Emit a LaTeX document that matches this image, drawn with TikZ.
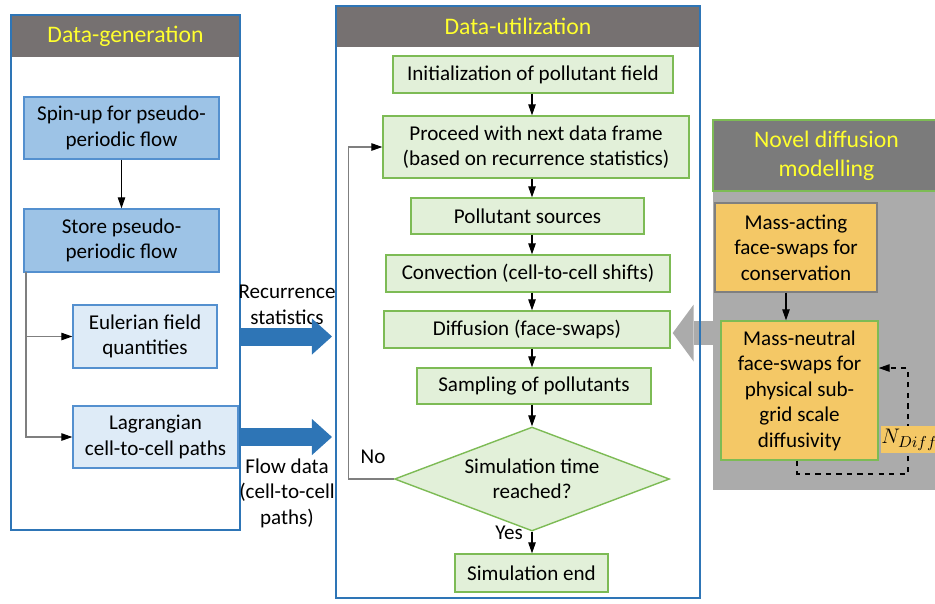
\documentclass[tikz,border=0pt]{standalone}
\usepackage{fontspec}
\setmainfont{Carlito}
\usetikzlibrary{arrows.meta, shapes.geometric, backgrounds}

\definecolor{hdrgray}{HTML}{767171}
\definecolor{hdryellow}{HTML}{FFFF2E}
\definecolor{panelblue}{HTML}{2E75B6}
\definecolor{boxblue}{HTML}{5490CF}
\definecolor{fillblue}{HTML}{9DC3E6}
\definecolor{paleblue}{HTML}{DEEBF7}
\definecolor{boxgreen}{HTML}{7DBB55}
\definecolor{fillgreen}{HTML}{E2F0D9}
\definecolor{novgray}{HTML}{ABABAB}
\definecolor{novhdr}{HTML}{7B7B7B}
\definecolor{fillorange}{HTML}{F4C866}
\definecolor{linegray}{HTML}{7F7F7F}

\tikzset{
  panel/.style={draw=panelblue, line width=1.2pt, inner sep=0pt},
  header/.style={fill=hdrgray, text=hdryellow, inner sep=0pt, align=center, font=\fontsize{13.5}{16.5}\selectfont},
  genbox/.style={draw=boxblue, fill=fillblue, line width=0.8pt, align=center, inner sep=0pt},
  pathbox/.style={genbox, fill=paleblue},
  usebox/.style={draw=boxgreen, fill=fillgreen, line width=0.8pt, align=center, inner sep=0pt},
  novbox/.style={draw=linegray, fill=fillorange, line width=0.8pt, align=center, inner sep=0pt},
  arr/.style={line width=0.6pt, -{Triangle[length=2.2mm,width=1.5mm]}},
  grayarr/.style={line width=0.6pt, draw=linegray, -{Triangle[length=2.2mm,width=1.5mm,black]}},
  dashloop/.style={dashed, line width=0.6pt, -{Triangle[length=2.2mm,width=1.5mm]}},
  fatarrow/.style={draw=panelblue, line width=0.36cm, -{Triangle[length=0.4cm,width=0.72cm,line width=0pt]}},
  grayfat/.style={draw=novgray, line width=0.48cm, -{Triangle[length=0.42cm,width=1.14cm,line width=0pt]}},
}

\begin{document}
\begin{tikzpicture}[x=0.02cm, y=-0.02cm, font=\fontsize{12}{14.5}\selectfont]
  \useasboundingbox (0,0) rectangle (935,603);

  % data generation
  \node[header, minimum width=4.58cm, minimum height=0.84cm] (genhdr) at (125.5,36) {Data-generation};
  \node[panel, minimum width=4.58cm, minimum height=10.3cm] (gen) at (125.5,272.5) {};
  \node[genbox, minimum width=3.9cm, minimum height=1.24cm] (spin) at (121.5,128) {Spin-up for pseudo-\\periodic flow};
  \node[genbox, minimum width=3.9cm, minimum height=1.26cm] (store) at (121.5,240.5) {Store pseudo-\\periodic flow};
  \node[pathbox, minimum width=2.88cm, minimum height=1.26cm] (euler) at (145,336.5) {Eulerian field\\quantities};
  \node[pathbox, minimum width=3.3cm, minimum height=1.24cm] (lagr) at (155.5,437) {Lagrangian\\cell-to-cell paths};
  \coordinate (trunk) at (26,272);

  \draw[arr] (spin) -- (store);
  \draw[grayarr] (trunk) |- (euler.west);
  \draw[grayarr] (trunk) |- (lagr.west);

  % data utilization
  \node[header, minimum width=7.28cm, minimum height=0.82cm] (usehdr) at (518,26.5) {Data-utilization};
  \node[panel, minimum width=7.28cm, minimum height=11.84cm] (use) at (518,302) {};
  \node[usebox, minimum width=5.6cm, minimum height=0.74cm] (init) at (533,74.5) {Initialization of pollutant field};
  \node[usebox, minimum width=6.12cm, minimum height=1.24cm] (next) at (536,147) {Proceed with next data frame\\(based on recurrence statistics)};
  \node[usebox, minimum width=4.66cm, minimum height=0.72cm] (src) at (527.5,216) {Pollutant sources};
  \node[usebox, minimum width=5.68cm, minimum height=0.74cm] (conv) at (528,273.5) {Convection (cell-to-cell shifts)};
  \node[usebox, minimum width=5.72cm, minimum height=0.74cm] (diff) at (527,329.5) {Diffusion (face-swaps)};
  \node[usebox, minimum width=4.68cm, minimum height=0.72cm] (samp) at (534,386) {Sampling of pollutants};
  \node[usebox, diamond, aspect=2.66, minimum width=5.5cm, minimum height=2.08cm] (check) at (532,479) {Simulation time\\reached?};
  \node[usebox, minimum width=3.06cm, minimum height=0.76cm] (stop) at (531.5,573) {Simulation end};
  \node (no) at (373,457) {No};
  \node (yes) at (509,533) {Yes};
  \coordinate (spine) at (532,0);

  \draw[arr] (init.south -| spine) -- (next.north -| spine);
  \draw[arr] (next.south -| spine) -- (src.north -| spine);
  \draw[arr] (src.south -| spine) -- (conv.north -| spine);
  \draw[arr] (conv.south -| spine) -- (diff.north -| spine);
  \draw[arr] (diff.south -| spine) -- (samp.north -| spine);
  \draw[arr] (samp.south -| spine) -- (check.north);
  \draw[arr] (check.south) -- (stop.north -| check.south);
  \draw[grayarr] (check.west) -- ++(-45,0) |- (next.west);

  % transfer between panels
  \node[align=center] (rec) at (287,305) {Recurrence\\statistics};
  \node[align=center] (flow) at (287,493) {Flow data\\(cell-to-cell\\paths)};
  \draw[fatarrow, shorten >=0.06cm] (euler.east -| gen.east) -- (euler.east -| use.west);
  \draw[fatarrow, shorten >=0.06cm] (lagr.east -| gen.east) -- (lagr.east -| use.west);

  % novel diffusion modelling
  \node[fill=novgray, inner sep=0pt, minimum width=4.54cm, minimum height=7.4cm] (nov) at (826.5,305) {};
  \node[header, fill=novhdr, draw=boxgreen, line width=0.8pt, minimum width=4.54cm, minimum height=1.42cm] (novhdr) at (826.5,155.5) {Novel diffusion\\modelling};
  \node[novbox, minimum width=3.24cm, minimum height=1.78cm] (acting) at (796,247.5) {Mass-acting\\face-swaps for\\conservation};
  \node[novbox, draw=boxgreen, minimum width=3.14cm, minimum height=2.78cm] (neutral) at (799.5,390.5) {Mass-neutral\\face-swaps for\\physical sub-\\grid scale\\diffusivity};
  \coordinate (drop) at (786,0);
  \coordinate (back) at (908,368);
  \coordinate (foot) at (797,474);
  \coordinate (tip) at (0,333);

  \draw[arr] (acting.south -| drop) -- (neutral.north -| drop);
  \draw[dashloop] (neutral.south -| foot) -- (foot) -| (back) -- (neutral.east |- back);
  \node[fill=fillorange, inner sep=0pt, minimum width=1.0cm, minimum height=0.54cm, font=\fontsize{12.5}{15}\selectfont] (ndiff) at (909.5,439.5) {$N_{Diff}$};

  \begin{scope}[on background layer]
    \draw[grayfat, shorten >=0.04cm] (nov.west |- tip) -- (diff.east |- tip);
  \end{scope}
\end{tikzpicture}
\end{document}
